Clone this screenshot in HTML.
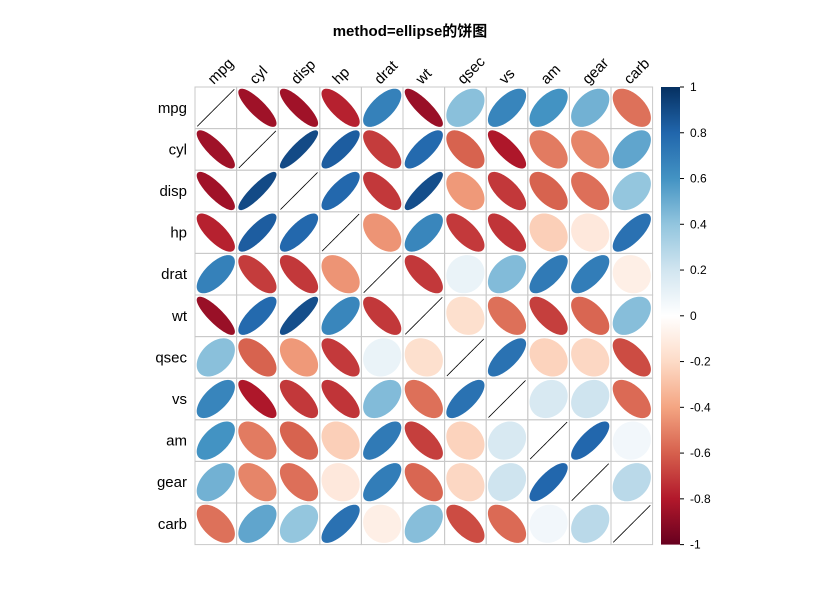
<!DOCTYPE html>
<html><head><meta charset="utf-8"><style>
body{margin:0;background:#fff;}
svg{display:block;font-family:"Liberation Sans","Noto Sans CJK SC",sans-serif;}
</style></head><body>
<svg id="chart" width="821" height="596">
<text x="410" y="36" text-anchor="middle" font-size="15" font-weight="bold">method=ellipse的饼图</text>
<defs><linearGradient id="cb" x1="0" y1="1" x2="0" y2="0"></linearGradient></defs>
<g id="cells"></g><g id="labels"></g><g id="legend"></g>
</svg>
<script>
const vars=["mpg","cyl","disp","hp","drat","wt","qsec","vs","am","gear","carb"];
const corr=[
[1,-0.852,-0.848,-0.776,0.681,-0.868,0.419,0.664,0.600,0.480,-0.551],
[-0.852,1,0.902,0.832,-0.700,0.782,-0.591,-0.811,-0.523,-0.493,0.527],
[-0.848,0.902,1,0.791,-0.710,0.888,-0.434,-0.710,-0.591,-0.556,0.395],
[-0.776,0.832,0.791,1,-0.449,0.659,-0.708,-0.723,-0.243,-0.126,0.750],
[0.681,-0.700,-0.710,-0.449,1,-0.712,0.091,0.440,0.713,0.700,-0.091],
[-0.868,0.782,0.888,0.659,-0.712,1,-0.175,-0.555,-0.692,-0.583,0.428],
[0.419,-0.591,-0.434,-0.708,0.091,-0.175,1,0.745,-0.230,-0.213,-0.656],
[0.664,-0.811,-0.710,-0.723,0.440,-0.555,0.745,1,0.168,0.206,-0.570],
[0.600,-0.523,-0.591,-0.243,0.713,-0.692,-0.230,0.168,1,0.794,0.058],
[0.480,-0.493,-0.556,-0.126,0.700,-0.583,-0.213,0.206,0.794,1,0.274],
[-0.551,0.527,0.395,0.750,-0.091,0.428,-0.656,-0.570,0.058,0.274,1]];
const ticks=[1,0.8,0.6,0.4,0.2,0,-0.2,-0.4,-0.6,-0.8,-1];
const NS="http://www.w3.org/2000/svg";
const pal=["#67001F","#B2182B","#D6604D","#F4A582","#FDDBC7","#FFFFFF","#D1E5F0","#92C5DE","#4393C3","#2166AC","#053061"];
function hex(h){return [1,3,5].map(i=>parseInt(h.substr(i,2),16));}
function col(r){const t=(r+1)/2*10;const i=Math.min(9,Math.floor(t));const f=t-i;const a=hex(pal[i]),b=hex(pal[i+1]);return "rgb("+a.map((v,k)=>Math.round(v+(b[k]-v)*f)).join(",")+")";}
const L=195,T=87,C=41.6,n=vars.length;
const xS=j=>L+j*C, yS=i=>T+i*C;
function mk(tag,at,p){const e=document.createElementNS(NS,tag);for(const k in at)e.setAttribute(k,at[k]);p.appendChild(e);return e;}
const cells=document.getElementById("cells"),labels=document.getElementById("labels"),leg=document.getElementById("legend");
for(let i=0;i<n;i++)for(let j=0;j<n;j++){
 const r=corr[i][j],cx=xS(j)+C/2,cy=yS(i)+C/2,s=C*0.44;
 const rect=mk("rect",{x:xS(j),y:yS(i),width:C,height:C,fill:"none",stroke:"#c8c8c8","stroke-width":1},cells);
 
 
 let pts=[];const d=Math.acos(Math.max(-1,Math.min(1,r)));
 for(let k=0;k<=90;k++){const t=k/90*2*Math.PI;pts.push((cx+s*Math.cos(t+d/2)).toFixed(2)+","+(cy-s*Math.cos(t-d/2)).toFixed(2));}
 const diag=Math.abs(r)>0.999;
 const e=mk("polygon",{points:pts.join(" "),fill:col(r),stroke:diag?"#000":col(r),"stroke-width":diag?0.8:1.6,"stroke-linejoin":"round"},cells);
 
 
}
vars.forEach((v,i)=>{
 const t=mk("text",{x:187,y:yS(i)+C/2+5,"text-anchor":"end","font-size":15},labels);t.textContent=v;
 
 
 const c=mk("text",{x:0,y:0,"font-size":15,transform:"translate("+(xS(i)+C/2-2)+","+(T-2)+") rotate(-45)"},labels);c.textContent=v;
 
 
});
const g=document.getElementById("cb");
pal.forEach((p,k)=>mk("stop",{offset:(k*10)+"%","stop-color":p},g));
const bx=661,bt=T,bb=T+n*C;
const yL=v=>bb-(v+1)/2*(bb-bt);
const bar=mk("rect",{x:bx,y:bt,width:19,height:bb-bt,fill:"url(#cb)"},leg);


ticks.forEach(v=>{
 const y=yL(v);
 const ln=mk("line",{x1:bx+19,x2:bx+23,y1:y,y2:y,stroke:"#000"},leg);
 
 
 const t=mk("text",{x:bx+29,y:y+4,"font-size":12},leg);t.textContent=String(v);
 
 
});
</script>
</body></html>
